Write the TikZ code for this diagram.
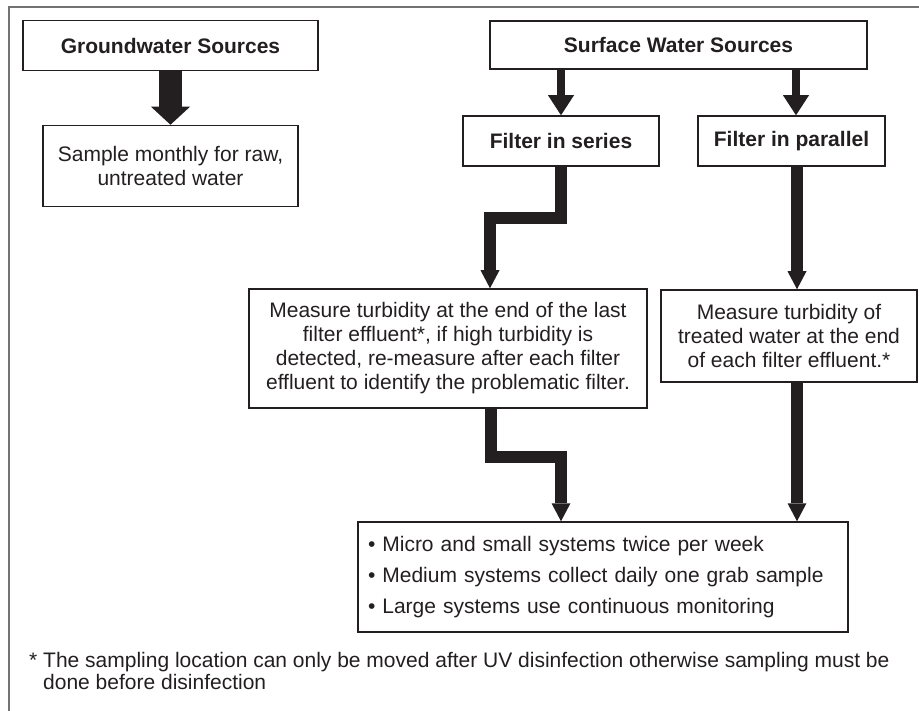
\documentclass[tikz,border=0pt]{standalone}
\usepackage{fontspec}
\setmainfont{Liberation Sans}
\usetikzlibrary{
    arrows.meta,
    positioning,
    calc
}
\definecolor{ink}{HTML}{231F20}

\begin{document}
\begin{tikzpicture}[
    x=1pt, y=-1pt,
    font=\fontsize{21}{24}\selectfont,
    box/.style={rectangle, draw=ink, line width=1.5pt, text=ink, align=center, inner sep=0pt},
    title/.style={box, font=\fontsize{21}{24}\selectfont\bfseries},
    flow/.style={draw=ink, line width=12pt, line join=miter, -{Triangle[width=19pt,length=18pt,line width=0pt]}},
    thinflow/.style={draw=ink, line width=8pt, -{Triangle[width=26pt,length=20pt,line width=0pt]}},
    fatflow/.style={draw=ink, line width=23pt, -{Triangle[width=39pt,length=18pt,line width=0pt]}}
]
    \useasboundingbox (0,0) rectangle (919,711);

    % Frame
    \draw[black!55, line width=1.5pt] (9,711) -- (9,7) -- (919,7);

    % Sources
    \node (gw) [title, minimum width=295pt, minimum height=50pt] at (170.5,45.5) {Groundwater Sources};
    \node (surf) [title, minimum width=377pt, minimum height=48pt] at (678.5,45) {Surface Water Sources};

    % Steps
    \node (sample) [box, minimum width=255pt, minimum height=81pt] at (170.5,166) {Sample monthly for raw,\\untreated water};
    \node (series) [title, minimum width=196pt, minimum height=50pt] at (561,141) {Filter in series};
    \node (parallel) [title, minimum width=187pt, minimum height=50pt] at (791.5,141) {Filter in parallel};
    \node (mseries) [box, minimum width=398pt, minimum height=119pt] at (448,348.5) {Measure turbidity at the end of the last\\filter effluent*, if high turbidity is\\detected, re-measure after each filter\\effluent to identify the problematic filter.};
    \node (mpar) [box, minimum width=256pt, minimum height=92pt] at (789,336) {Measure turbidity of\\treated water at the end\\of each filter effluent.*};
    \node (result) [box, minimum width=490pt, minimum height=110pt, align=left, text width=470pt, inner xsep=10pt] at (603,577) {\textbullet\ Micro and small systems twice per week\\[7pt]\textbullet\ Medium systems collect daily one grab sample\\[7pt]\textbullet\ Large systems use continuous monitoring};

    % Footnote
    \node (note) [anchor=north west, align=left, text=ink, inner sep=0pt, font=\fontsize{21}{22}\selectfont] at (29,652) {* The sampling location can only be moved after UV disinfection otherwise sampling must be\\\hphantom{* }done before disinfection};

    % Arrows
    \coordinate (pin) at ($(parallel.north)+(4.5,0)$);
    \coordinate (pout) at ($(parallel.south)+(5.5,0)$);
    \draw [fatflow] (gw.south) -- (sample.north);
    \draw [thinflow] (series.north |- surf.south) -- (series.north);
    \draw [thinflow] (pin |- surf.south) -- (pin);
    \draw [flow] (series.south) -- ++(0,51) -| ($(mseries.north)+(42,0)$);
    \draw [flow] ($(mseries.south)+(43,0)$) -- ++(0,48) -| (result.north -| series.south);
    \draw [flow] (pout) -- (pout |- mpar.north);
    \draw [flow] (mpar.south -| pout) -- (result.north -| pout);

\end{tikzpicture}
\end{document}
